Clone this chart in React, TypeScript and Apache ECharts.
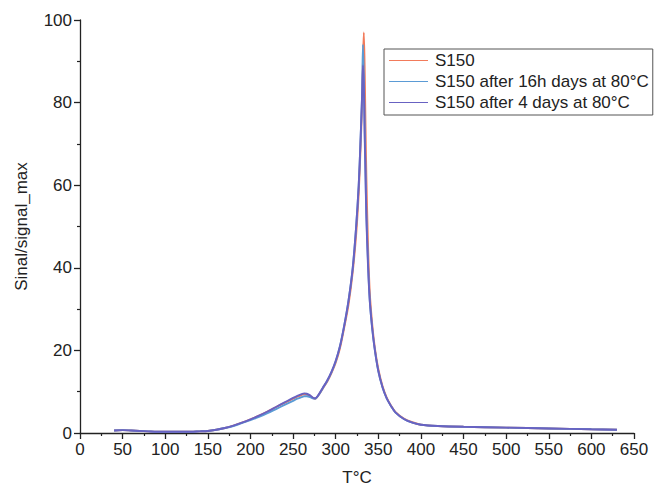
import React, { useEffect, useRef } from "react";
import * as echarts from "echarts";

const temps = [40,50,60,70,80,90,100,110,120,130,140,150,160,170,180,190,200,210,220,230,240,250,255,260,263,266,270,273,276,280,285,290,295,300,305,310,315,320,324,327,329,331,332,333,334,335,336,338,340,343,346,350,355,360,365,370,380,390,400,420,450,500,550,600,630];

const s150 = [0.6,0.7,0.6,0.5,0.4,0.3,0.3,0.3,0.3,0.3,0.4,0.5,0.8,1.2,1.8,2.5,3.3,4.2,5.2,6.3,7.3,8.3,8.8,9.2,9.4,9.3,9.0,8.5,8.3,9.2,10.8,12.4,14.5,17.0,20.5,25.5,31,39,48,58,68,80,90,97,88,74,62,45,34,26,20.5,15.5,11.3,8.5,6.6,5.1,3.5,2.6,2.0,1.7,1.5,1.3,1.1,0.9,0.8];
const s150_16h = [0.6,0.7,0.6,0.5,0.4,0.3,0.3,0.3,0.3,0.3,0.4,0.5,0.8,1.2,1.7,2.4,3.1,3.9,4.8,5.8,6.8,7.8,8.3,8.7,8.9,8.9,8.7,8.4,8.3,9.2,10.9,12.6,14.7,17.3,21,26,32,40,50,60,70,82,94,86,74,63,53,41,32,25,20,15,11,8.3,6.5,5.0,3.4,2.5,2.0,1.7,1.5,1.3,1.1,0.9,0.8];
const s150_4d = [0.6,0.7,0.6,0.5,0.4,0.3,0.3,0.3,0.3,0.3,0.4,0.5,0.8,1.2,1.8,2.5,3.3,4.2,5.2,6.3,7.4,8.5,9.0,9.4,9.6,9.5,9.1,8.6,8.4,9.3,11.0,12.7,14.8,17.5,21,26,32,40,50,60,70,82,89,84,72,62,52,40,32,25,20,15,11,8.3,6.5,5.0,3.4,2.5,2.0,1.7,1.5,1.3,1.1,0.9,0.8];

const seriesNames = ["S150", "S150 after 16h days at 80°C", "S150 after 4 days at 80°C"];
const seriesColors = ["#f27b5b", "#5b9bd5", "#6862c2"];
const seriesValues = [s150, s150_16h, s150_4d];

export default function App() {
  const ref = useRef<HTMLDivElement>(null);
  useEffect(() => {
    if (!ref.current) return;
    const chart = echarts.init(ref.current, null, { renderer: "svg" });
    const font = "Liberation Sans, Arial, sans-serif";
    chart.setOption({
      animation: false,
      backgroundColor: "#ffffff",
      textStyle: { fontFamily: font },
      grid: { left: 80, right: 28, top: 20, bottom: 60, containLabel: false },
      legend: {
        orient: "vertical",
        left: 384,
        top: 49,
        itemWidth: 39,
        itemHeight: 14,
        itemGap: 4,
        padding: [3, 4, 4, 5],
        borderColor: "#555",
        borderWidth: 1,
        borderRadius: 0,
        backgroundColor: "#fff",
        textStyle: { fontSize: 17, color: "#222", fontFamily: font, padding: [0, 0, 0, 2] },
        data: seriesNames.map((n) => ({ name: n, icon: "path://M0,0 L40,0 L40,1 L0,1 Z" })),
      },
      xAxis: {
        type: "value",
        min: 0,
        max: 650,
        interval: 50,
        name: "T°C",
        nameLocation: "middle",
        nameGap: 36,
        nameTextStyle: { fontSize: 17, color: "#222", fontFamily: font },
        axisLine: { show: true, onZero: false, lineStyle: { color: "#222", width: 1.3 } },
        axisTick: { show: true, inside: false, length: 6, lineStyle: { color: "#222", width: 1.3 } },
        minorTick: { show: true, splitNumber: 2, length: 3, lineStyle: { color: "#222", width: 1.2 } },
        axisLabel: { fontSize: 17, color: "#222", margin: 8, fontFamily: font },
        splitLine: { show: false },
      },
      yAxis: {
        type: "value",
        min: 0,
        max: 100,
        interval: 20,
        name: "Sinal/signal_max",
        nameLocation: "middle",
        nameGap: 50,
        nameRotate: 90,
        nameTextStyle: { fontSize: 17, color: "#222", fontFamily: font },
        axisLine: { show: true, lineStyle: { color: "#222", width: 1.3 } },
        axisTick: { show: true, inside: false, length: 6, lineStyle: { color: "#222", width: 1.3 } },
        minorTick: { show: true, splitNumber: 2, length: 3, lineStyle: { color: "#222", width: 1.2 } },
        axisLabel: { fontSize: 17, color: "#222", margin: 8, fontFamily: font },
        splitLine: { show: false },
      },
      series: seriesNames.map((name, i) => ({
        name,
        type: "line",
        data: temps.map((t, j) => [t, seriesValues[i][j]]),
        showSymbol: false,
        symbol: "none",
        smooth: 0.3,
        color: seriesColors[i],
        lineStyle: { color: seriesColors[i], width: 1.9 },
      })),
    });
    return () => chart.dispose();
  }, []);
  return <div ref={ref} style={{ width: 662, height: 493, position: "absolute", left: 0, top: 0 }} />;
}
